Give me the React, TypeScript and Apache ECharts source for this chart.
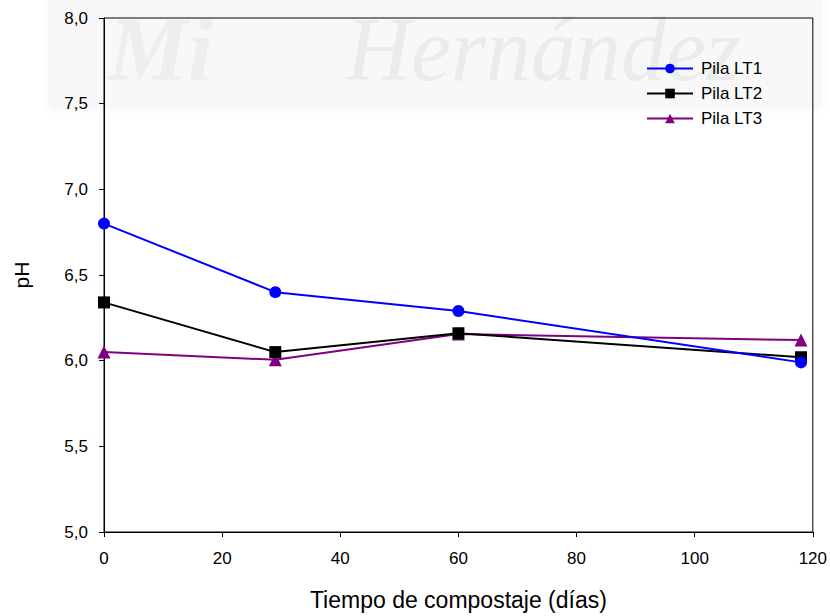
import React, { useEffect, useRef } from "react";
import * as echarts from "echarts";

const days = [0, 29, 60, 118];
const lt1 = [6.80, 6.40, 6.29, 5.99];
const lt2 = [6.34, 6.05, 6.16, 6.02];
const lt3 = [6.05, 6.005, 6.155, 6.12];
const seriesNames = ["Pila LT1", "Pila LT2", "Pila LT3"];
const yTickLabels = ["5,0", "5,5", "6,0", "6,5", "7,0", "7,5", "8,0"];

const FONT = "Liberation Sans, Arial, sans-serif";

export default function App() {
  const ref = useRef<HTMLDivElement>(null);
  useEffect(() => {
    if (!ref.current) return;
    const chart = echarts.init(ref.current, undefined, { renderer: "svg" });
    const mk = (arr: number[]) => days.map((d, i) => [d, arr[i]]);
    chart.setOption({
      animation: false,
      backgroundColor: "#ffffff",
      graphic: [
        {
          type: "rect",
          silent: true,
          z: -10,
          shape: { x: 50, y: -10, width: 770, height: 117 },
          style: { fill: "#f8f8f8", shadowBlur: 10, shadowColor: "rgba(0,0,0,0.07)" },
        },
        {
          type: "text",
          silent: true,
          z: -9,
          x: 346,
          y: 4,
          style: {
            text: "Hernández",
            font: "italic 90px 'Liberation Serif', serif",
            fill: "#ebebeb",
          },
        },
        {
          type: "text",
          silent: true,
          z: -9,
          x: 108,
          y: 4,
          style: {
            text: "Mi",
            font: "italic bold 90px 'Liberation Serif', serif",
            fill: "#eeeeee",
          },
        },
      ],
      grid: { left: 104, top: 18, right: 14, bottom: 84, show: true, borderColor: "#000", borderWidth: 1 },
      legend: {
        orient: "vertical",
        left: 641,
        top: 55,
        itemWidth: 46,
        itemHeight: 12,
        itemGap: 8,
        textStyle: { fontFamily: FONT, fontSize: 17, color: "#000", padding: [0, 0, 0, 3] },
        data: seriesNames,
      },
      xAxis: {
        type: "value",
        min: 0,
        max: 120,
        interval: 20,
        name: "Tiempo de compostaje (días)",
        nameLocation: "middle",
        nameGap: 56,
        nameTextStyle: { fontFamily: FONT, fontSize: 23, color: "#000" },
        axisLine: { show: true, lineStyle: { color: "#000" } },
        axisTick: { show: true, length: 5, lineStyle: { color: "#000" } },
        axisLabel: { fontFamily: FONT, fontSize: 17, color: "#000", margin: 18 },
        splitLine: { show: false },
      },
      yAxis: {
        type: "value",
        min: 5,
        max: 8,
        interval: 0.5,
        name: "pH",
        nameLocation: "middle",
        nameGap: 72,
        nameTextStyle: { fontFamily: FONT, fontSize: 21, color: "#000" },
        axisLine: { show: true, lineStyle: { color: "#000" } },
        axisTick: { show: true, length: 5, lineStyle: { color: "#000" } },
        axisLabel: {
          fontFamily: FONT,
          fontSize: 17,
          color: "#000",
          margin: 16,
          formatter: (v: number) => yTickLabels[Math.round((v - 5) / 0.5)] ?? "",
        },
        splitLine: { show: false },
      },
      series: [
        {
          name: seriesNames[0],
          type: "line",
          data: mk(lt1),
          symbol: "circle",
          symbolSize: 12,
          lineStyle: { color: "#0000ff", width: 2 },
          itemStyle: { color: "#0000ff" },
          z: 3,
        },
        {
          name: seriesNames[1],
          type: "line",
          data: mk(lt2),
          symbol: "rect",
          symbolSize: 12,
          lineStyle: { color: "#000000", width: 2 },
          itemStyle: { color: "#000000" },
          z: 2,
        },
        {
          name: seriesNames[2],
          type: "line",
          data: mk(lt3),
          symbol: "triangle",
          symbolSize: 13,
          lineStyle: { color: "#800080", width: 2 },
          itemStyle: { color: "#800080" },
          z: 1,
        },
      ],
    });
    return () => chart.dispose();
  }, []);
  return <div ref={ref} style={{ width: 830, height: 616, position: "absolute", left: 0, top: 0 }} />;
}
